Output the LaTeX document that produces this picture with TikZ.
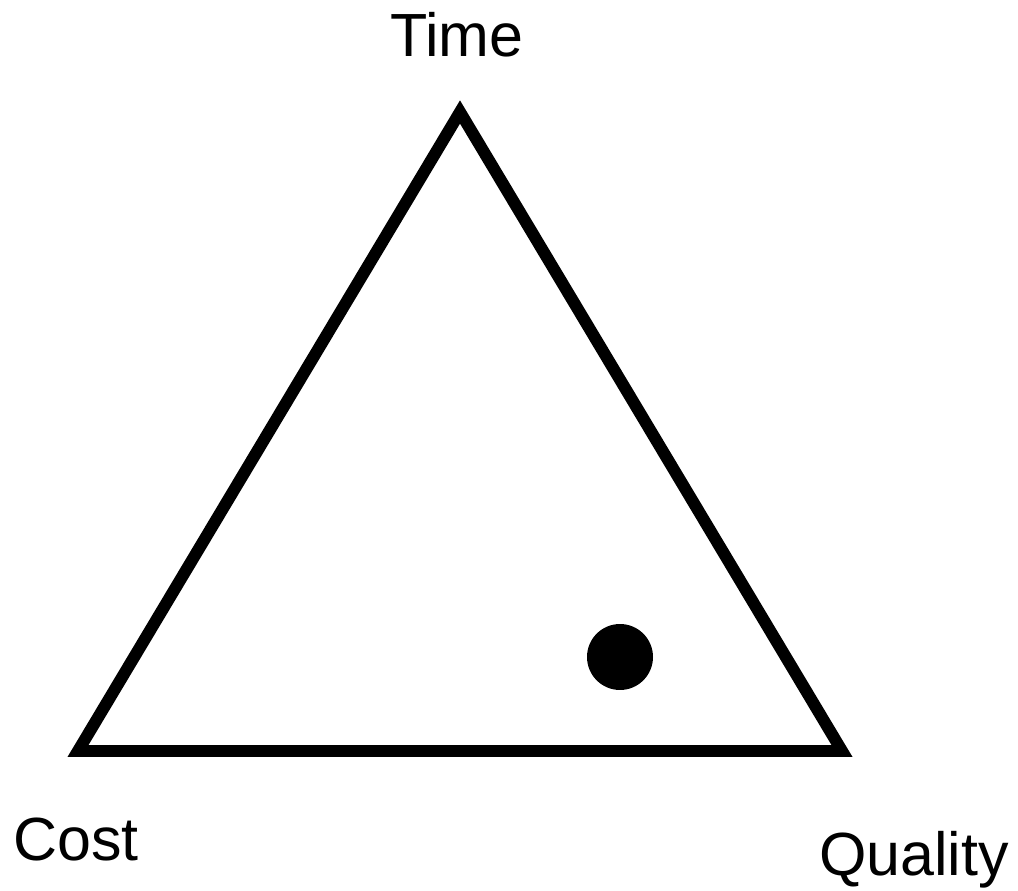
\documentclass[tikz,border=0pt]{standalone}
\usepackage{fontspec}
\setmainfont{Liberation Sans}
\begin{document}
\begin{tikzpicture}[x=0.02cm, y=-0.02cm]

        \useasboundingbox (0,0) rectangle (1018,891);

        % corners of the triangle
        \coordinate (t) at (460,112);
        \coordinate (c) at (78,751);
        \coordinate (q) at (842,751);

        % labels
        \node[anchor=base, inner sep=0pt, font=\fontsize{34.7}{40}\selectfont] (time) at (457,57) {Time};
        \node[anchor=base, inner sep=0pt, font=\fontsize{34.7}{40}\selectfont] (cost) at (76,860) {Cost};
        \node[anchor=base, inner sep=0pt, font=\fontsize{34.7}{40}\selectfont] (quality) at (914,875) {Quality};

        % the point inside
        \node[fill=black, circle, inner sep=0pt, minimum size=1.32cm] (p) at (620,657) {};

        % Draw the triangle
        \draw[line width=6.8pt, line join=miter] (t) -- (c) -- (q) -- cycle;

\end{tikzpicture}
\end{document}
